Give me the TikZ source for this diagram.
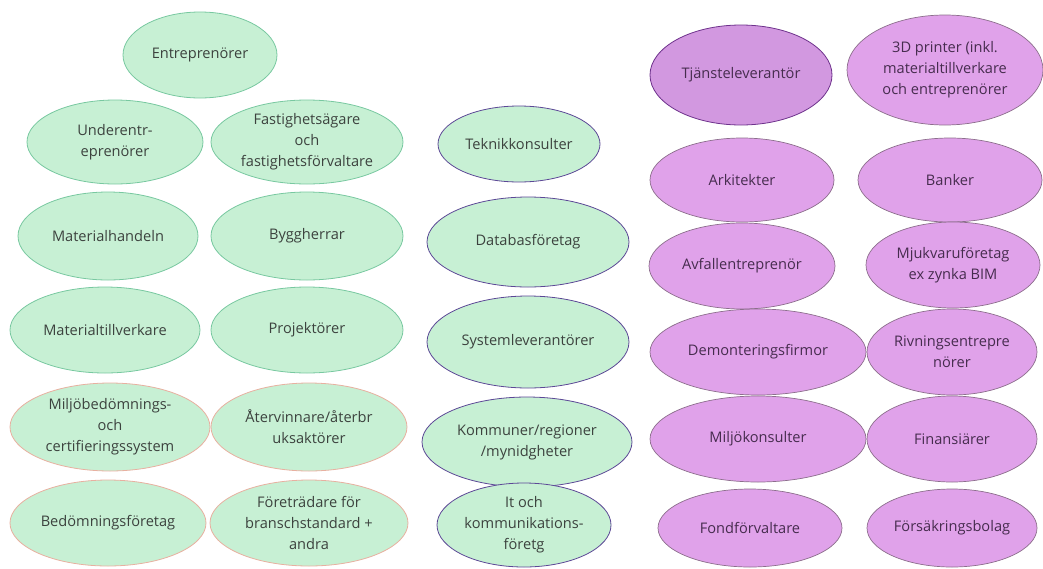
\documentclass[tikz,border=0pt]{standalone}
\usepackage{fontspec}
\setmainfont{Open Sans}
\begin{document}
\definecolor{mint}{RGB}{199,240,212}
\definecolor{mintline}{RGB}{120,200,160}
\definecolor{salmonline}{RGB}{232,176,160}
\definecolor{indigoline}{RGB}{92,72,150}
\definecolor{lilac}{RGB}{224,162,234}
\definecolor{lilacdark}{RGB}{210,152,224}
\definecolor{lilacline}{RGB}{140,110,140}
\definecolor{plumline}{RGB}{110,50,140}
\definecolor{greentext}{RGB}{60,66,62}
\definecolor{purpletext}{RGB}{70,44,78}
\begin{tikzpicture}[x=1pt,y=-1pt,
  greenblob/.style={fill=mint,draw=mintline,line width=0.8pt},
  salmonblob/.style={fill=mint,draw=salmonline,line width=0.8pt},
  indigoblob/.style={fill=mint,draw=indigoline,line width=0.8pt},
  lilacblob/.style={fill=lilac,draw=lilacline,line width=0.7pt},
  plumblob/.style={fill=lilacdark,draw=plumline,line width=0.8pt},
  gtxt/.style={align=center,inner sep=0pt,text=greentext,font=\fontsize{14.6}{21}\selectfont},
  ptxt/.style={align=center,inner sep=0pt,text=purpletext,font=\fontsize{14.6}{21}\selectfont}]
\useasboundingbox (0,0) rectangle (1043,568);
% \blob{name}{x}{y}{rx}{ry}{shape style}{text style}{label}
\newcommand\blob[8]{%
  \path[#6] (#2,#3) ellipse [x radius=#4, y radius=#5];
  \node[#7] (#1) at (#2,#3) {#8};}
% left group
\blob{entr}{200}{55}{77}{43}{greenblob}{gtxt}{Entreprenörer}
\blob{under}{115}{142}{88}{42}{greenblob}{gtxt}{Underentr-\\eprenörer}
\blob{fast}{307}{142}{96}{42}{greenblob}{gtxt}{Fastighetsägare\\och\\fastighetsförvaltare}
\blob{mhand}{108}{236}{90}{44}{greenblob}{gtxt}{Materialhandeln}
\blob{bygg}{307}{236}{96}{44}{greenblob}{gtxt}{Byggherrar}
\blob{mtill}{105}{330}{95}{43}{greenblob}{gtxt}{Materialtillverkare}
\blob{proj}{307}{330}{96}{43}{greenblob}{gtxt}{Projektörer}
\blob{miljo}{110}{427}{100}{44}{salmonblob}{gtxt}{Miljöbedömnings-\\och\\certifieringssystem}
\blob{ater}{309}{427}{98}{44}{salmonblob}{gtxt}{Återvinnare/återbr\\uksaktörer}
\blob{bedom}{108}{523}{98}{43}{salmonblob}{gtxt}{Bedömningsföretag}
\blob{foretr}{309}{523}{99}{43}{salmonblob}{gtxt}{Företrädare för\\branschstandard +\\andra}
% middle group
\blob{tekn}{519}{144}{81}{38}{indigoblob}{gtxt}{Teknikkonsulter}
\blob{datab}{528}{242}{101}{45}{indigoblob}{gtxt}{Databasföretag}
\blob{syst}{528}{342}{101}{46}{indigoblob}{gtxt}{Systemleverantörer}
\blob{komm}{527}{442}{105}{45}{indigoblob}{gtxt}{Kommuner/regioner\\/mynidgheter}
\blob{itoch}{524}{525}{87}{42}{indigoblob}{gtxt}{It och\\kommunikations-\\företg}
% right group
\blob{tjanst}{741}{75}{91}{50}{plumblob}{ptxt}{Tjänsteleverantör}
\blob{print}{945}{70}{98}{55}{lilacblob}{ptxt}{3D printer (inkl.\\materialtillverkare\\och entreprenörer}
\blob{arki}{742}{180}{92}{42}{lilacblob}{ptxt}{Arkitekter}
\blob{bank}{950}{180}{92}{42}{lilacblob}{ptxt}{Banker}
\blob{avfall}{742}{266}{93}{43}{lilacblob}{ptxt}{Avfallentreprenör}
\blob{mjuk}{953}{265}{87}{43}{lilacblob}{ptxt}{Mjukvaruföretag\\ex zynka BIM}
\blob{demont}{758}{352}{108}{43}{lilacblob}{ptxt}{Demonteringsfirmor}
\blob{rivn}{952}{352}{85}{43}{lilacblob}{ptxt}{Rivningsentrepre\\nörer}
\blob{mkons}{758}{439}{108}{43}{lilacblob}{ptxt}{Miljökonsulter}
\blob{finans}{952}{439}{85}{43}{lilacblob}{ptxt}{Finansiärer}
\blob{fond}{750}{528}{92}{39}{lilacblob}{ptxt}{Fondförvaltare}
\blob{forsak}{952}{528}{85}{39}{lilacblob}{ptxt}{Försäkringsbolag}
\end{tikzpicture}
\end{document}
